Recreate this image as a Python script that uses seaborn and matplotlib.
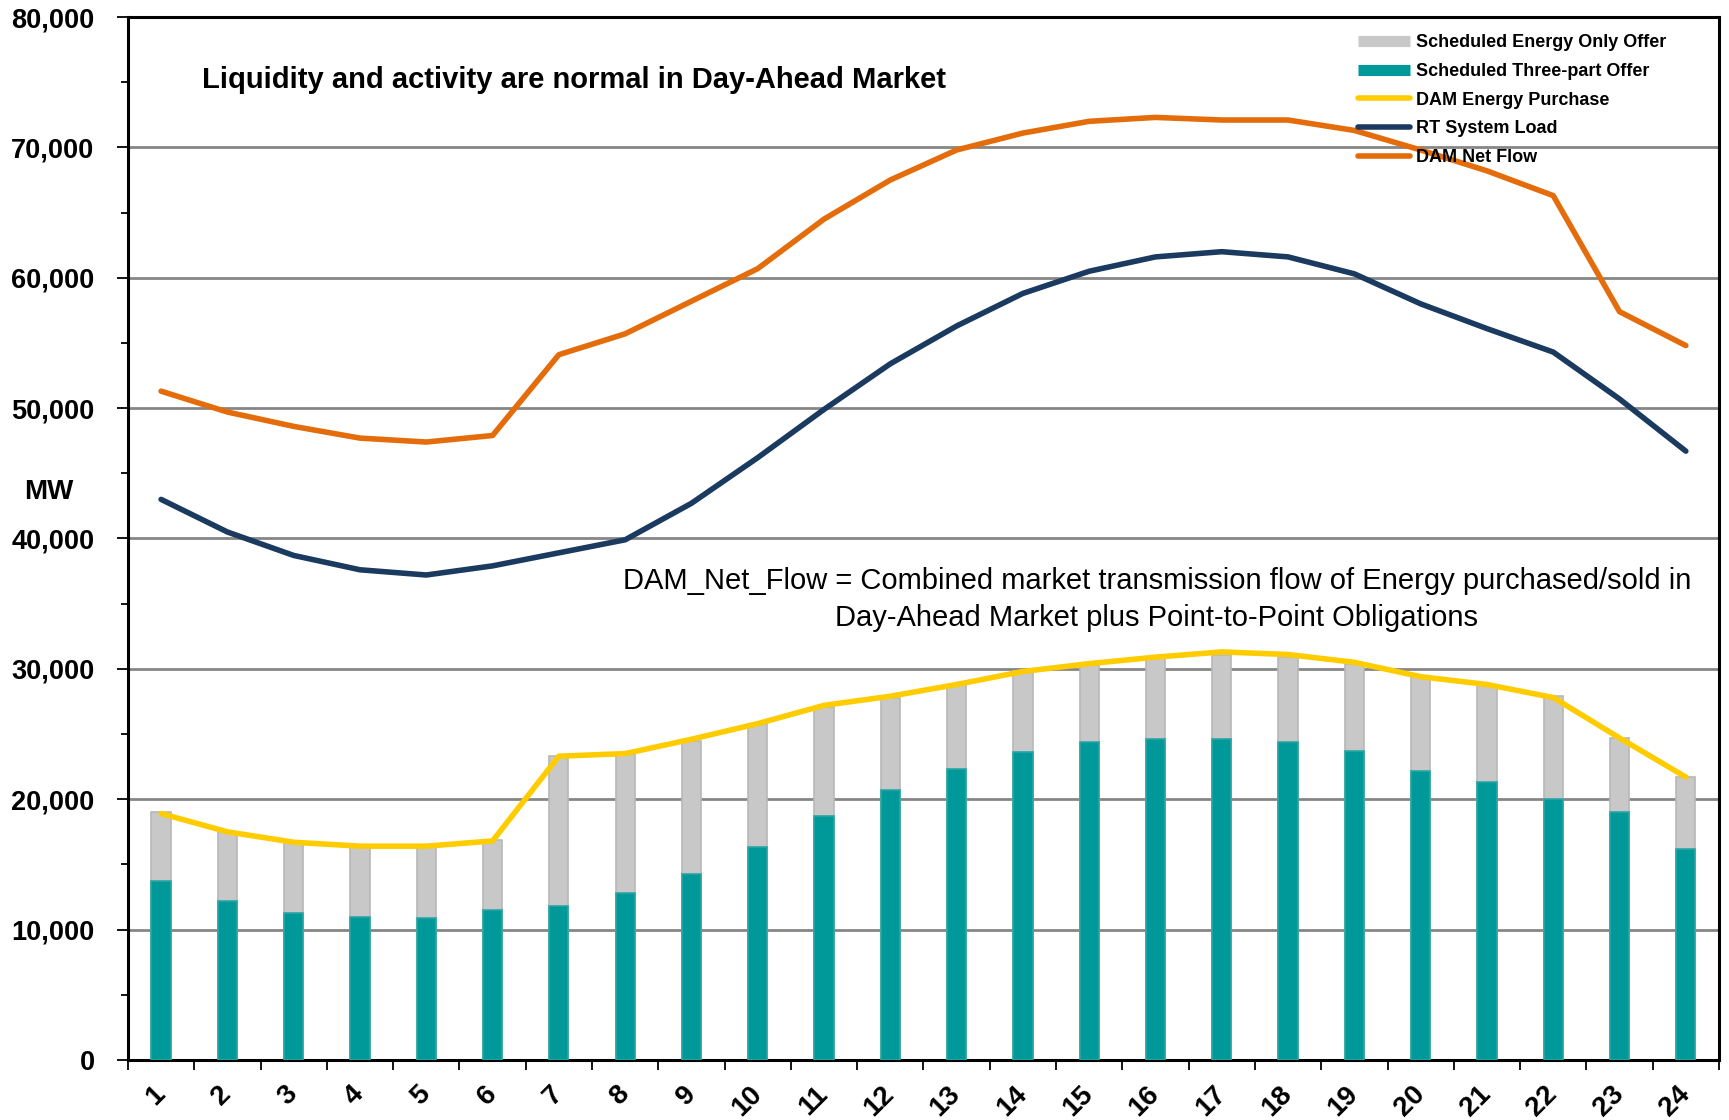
import matplotlib

matplotlib.use("Agg")
import matplotlib.pyplot as plt
import matplotlib.transforms as mtransforms
import numpy as np
import pandas as pd
import seaborn as sns
from matplotlib.lines import Line2D
from matplotlib.ticker import FuncFormatter, MultipleLocator

hours = list(range(1, 25))
three_part = [13700, 12200, 11300, 11000, 10900, 11500, 11800, 12800, 14300, 16300, 18700, 20700,
              22300, 23600, 24400, 24600, 24600, 24400, 23700, 22200, 21300, 20000, 19000, 16200]
energy_only = [5300, 5300, 5400, 5400, 5500, 5400, 11500, 10700, 10200, 9500, 8400, 7100,
               6500, 6200, 6000, 6200, 6500, 6500, 6700, 7200, 7500, 7900, 5700, 5500]
dam_purchase = [18900, 17500, 16700, 16400, 16400, 16800, 23300, 23500, 24600, 25800, 27200, 27900,
                28800, 29800, 30400, 30900, 31300, 31100, 30500, 29400, 28800, 27800, 24700, 21700]
rt_load = [43000, 40500, 38700, 37600, 37200, 37900, 38900, 39900, 42700, 46200, 49900, 53400,
           56300, 58800, 60500, 61600, 62000, 61600, 60300, 58000, 56100, 54300, 50700, 46700]
dam_net_flow = [51300, 49700, 48600, 47700, 47400, 47900, 54100, 55700, 58200, 60700, 64500, 67500,
                69800, 71100, 72000, 72300, 72100, 72100, 71300, 69800, 68200, 66300, 57400, 54800]

TEAL = "#009999"
GREY = "#C8C8C8"
YELLOW = "#FFCC00"
NAVY = "#1B3A5F"
ORANGE = "#E46C0A"


def main():
    df = pd.DataFrame({
        "hour": [str(h) for h in hours],
        "pos": np.arange(len(hours)),
        "three_part": three_part,
        "total": np.array(three_part) + np.array(energy_only),
        "dam_purchase": dam_purchase,
        "rt_load": rt_load,
        "dam_net_flow": dam_net_flow,
    })

    sns.set_theme(style="white")
    plt.rcParams["font.family"] = ["Liberation Sans", "DejaVu Sans"]
    plt.rcParams["text.color"] = "black"
    plt.rcParams["xtick.labelcolor"] = "black"
    plt.rcParams["ytick.labelcolor"] = "black"

    fig = plt.figure(figsize=(17.29, 11.2), dpi=100)
    ax = fig.add_axes([0.074, 0.0536, 0.9942 - 0.074, 0.9848 - 0.0536])

    ax.yaxis.set_major_locator(MultipleLocator(10000))
    ax.yaxis.set_minor_locator(MultipleLocator(5000))
    ax.grid(axis="y", which="major", color="#868686", lw=2, zorder=0)
    ax.set_axisbelow(True)

    sns.barplot(data=df, x="hour", y="total", order=df["hour"], color=GREY, width=0.29,
                saturation=1, edgecolor="#B8B8B8", linewidth=1.2, ax=ax, zorder=2)
    sns.barplot(data=df, x="hour", y="three_part", order=df["hour"], color=TEAL, width=0.29,
                saturation=1, edgecolor="#2AA5A5", linewidth=1.2, ax=ax, zorder=3)

    sns.lineplot(data=df, x="pos", y="dam_purchase", color=YELLOW, lw=4, ax=ax, zorder=4)
    sns.lineplot(data=df, x="pos", y="rt_load", color=NAVY, lw=4, ax=ax, zorder=4)
    sns.lineplot(data=df, x="pos", y="dam_net_flow", color=ORANGE, lw=4, ax=ax, zorder=4)

    ax.set_xlim(-0.5, len(hours) - 0.5)
    ax.set_ylim(0, 80000)
    ax.set_xlabel("")
    ax.set_ylabel("")

    ax.set_xticks(np.arange(len(hours)))
    ax.set_xticklabels(df["hour"], rotation=45, ha="right", va="center",
                       rotation_mode="anchor", fontsize=20, fontweight="bold", color="black")
    shift = mtransforms.ScaledTranslation(4 / 100, 0, fig.dpi_scale_trans)
    for lab in ax.get_xticklabels():
        lab.set_transform(lab.get_transform() + shift)
    ax.set_xticks(np.arange(len(hours) + 1) - 0.5, minor=True)
    ax.tick_params(axis="x", which="major", length=0, pad=22)
    ax.tick_params(axis="x", which="minor", direction="out", length=7, width=1.3,
                   color="black", bottom=True)

    ax.yaxis.set_major_formatter(FuncFormatter(lambda v, p: f"{int(v):,}"))
    ax.tick_params(axis="y", which="major", direction="out", length=8, width=1.3,
                   color="black", labelcolor="black", left=True, labelsize=19.5, pad=16)
    ax.tick_params(axis="y", which="minor", direction="out", length=5, width=1.3,
                   color="black", left=True)
    for lab in ax.get_yticklabels():
        lab.set_fontweight("bold")

    for side, spine in ax.spines.items():
        spine.set_visible(True)
        spine.set_color("black")
        spine.set_linewidth(2.2)

    fig.text(0.1168, 0.929, "Liquidity and activity are normal in Day-Ahead Market",
             fontsize=21, fontweight="bold", va="center", ha="left", color="black")
    fig.text(0.0285, 0.561, "MW", fontsize=20, fontweight="bold", va="center", ha="center",
             color="black")
    fig.text(0.669, 0.4645,
             "DAM_Net_Flow = Combined market transmission flow of Energy purchased/sold in\n"
             "Day-Ahead Market plus Point-to-Point Obligations",
             fontsize=21, va="center", ha="center", multialignment="center", linespacing=1.4,
             color="black")

    handles = [
        Line2D([], [], color=GREY, lw=8, solid_capstyle="butt"),
        Line2D([], [], color=TEAL, lw=8, solid_capstyle="butt"),
        Line2D([], [], color=YELLOW, lw=4),
        Line2D([], [], color=NAVY, lw=4),
        Line2D([], [], color=ORANGE, lw=4),
    ]
    labels = ["Scheduled Energy Only Offer", "Scheduled Three-part Offer", "DAM Energy Purchase",
              "RT System Load", "DAM Net Flow"]
    leg = fig.legend(handles, labels, loc="upper left", bbox_to_anchor=(0.7855, 0.9695),
                     frameon=False, handlelength=2.9, handletextpad=0.3, labelspacing=0.65,
                     prop={"size": 13, "weight": "bold"}, borderaxespad=0, borderpad=0,
                     labelcolor="black")
    leg.set_zorder(10)

    plt.savefig("out.png", dpi=100)


if __name__ == "__main__":
    main()
